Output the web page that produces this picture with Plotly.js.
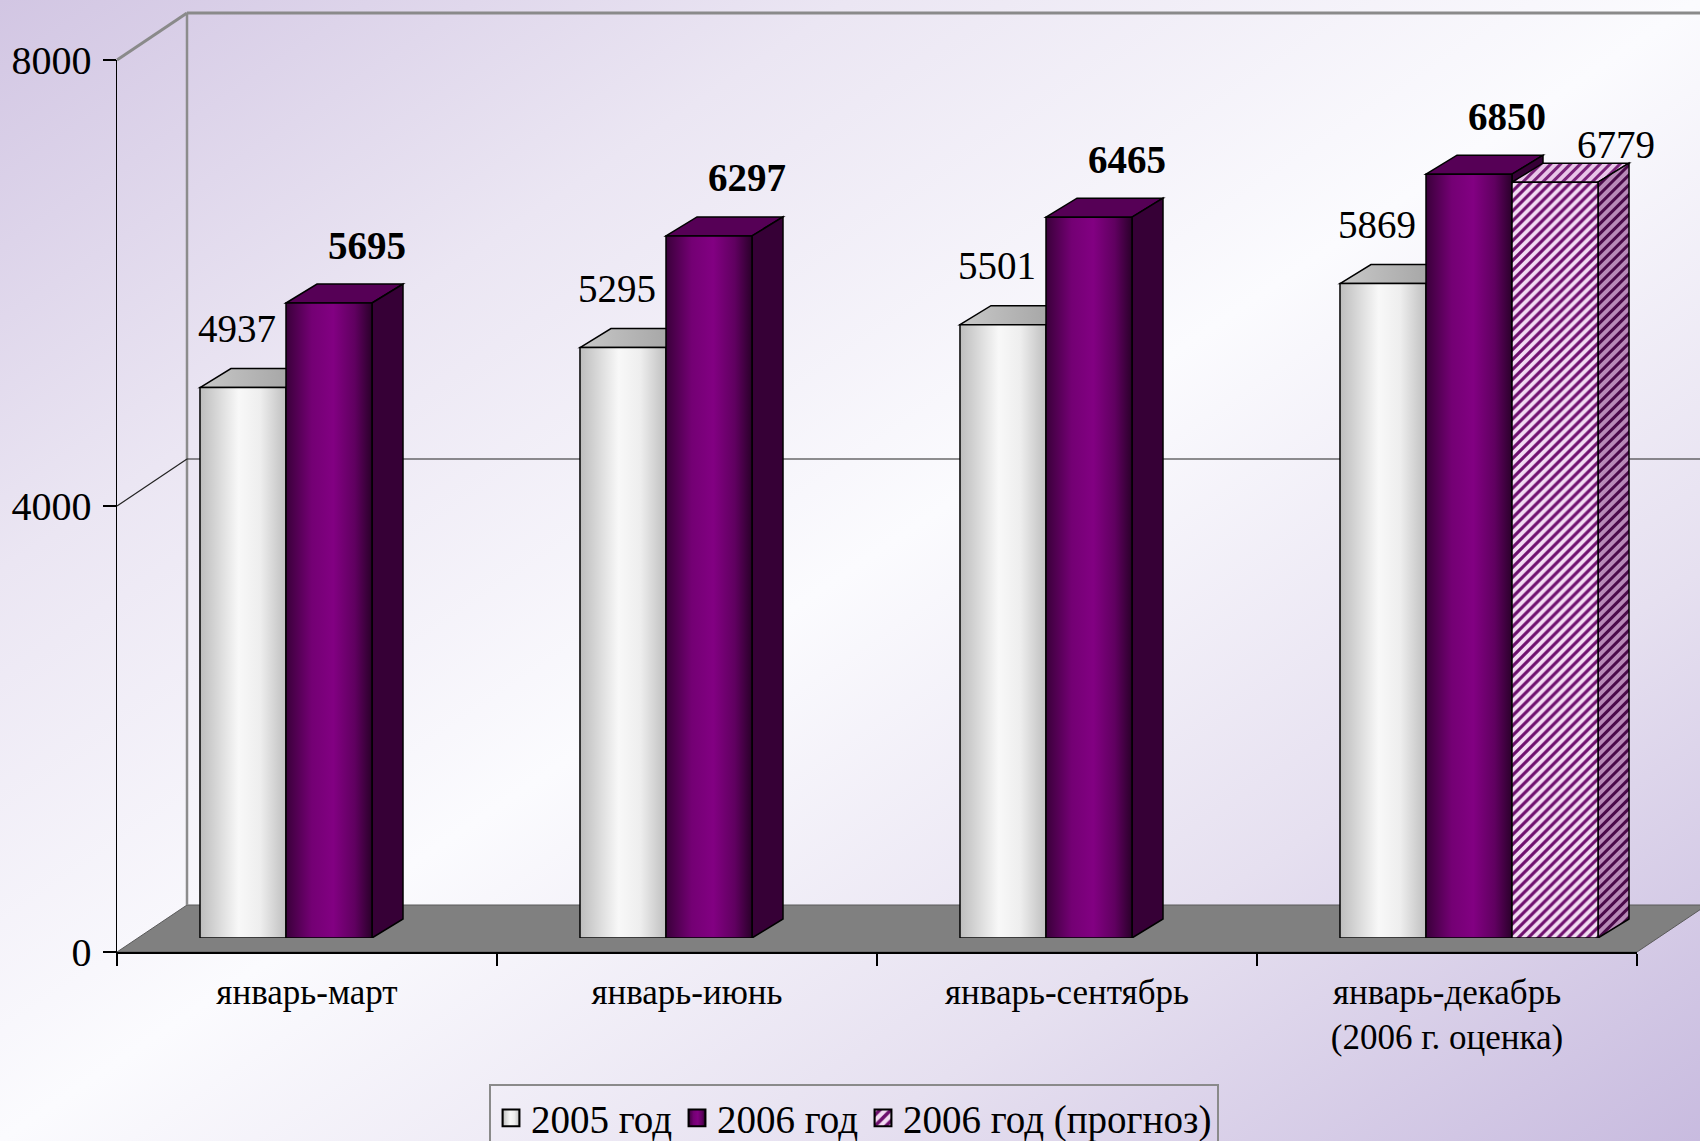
<!DOCTYPE html>
<html>
<head>
<meta charset="utf-8">
<script src="https://cdn.plot.ly/plotly-3.0.1.min.js"></script>
<style>
  html, body { margin: 0; padding: 0; }
  body {
    width: 1700px; height: 1141px; overflow: hidden;
    background: linear-gradient(to bottom right, #d2c6e3 0%, #ebe6f3 25%, #fbfbfe 50%, #e6e0f0 75%, #c8bbdf 100%);
  }
  #chart { width: 1700px; height: 1141px; }
</style>
</head>
<body>
<div id="chart"></div>
<script>
// ---- data ----
const categories = ['январь-март', 'январь-июнь', 'январь-сентябрь', 'январь-декабрь<br>(2006 г. оценка)'];
const values2005 = [4937, 5295, 5501, 5869];
const values2006 = [5695, 6297, 6465, 6850];
const valuesForecast = [null, null, null, 6779];
const seriesNames = ['2005 год', '2006 год', '2006 год (прогноз)'];
const yTickVals = [0, 4000, 8000];
const yTickText = ['0', '4000', '8000'];

// ---- layout constants ----
const W = 1700, H = 1141, L = 117, R = 63, T = 60, B = 189;
const plotW = W - L - R, plotH = H - T - B;
const yMax = 8000;
const catPx = plotW / categories.length;
const wallDX = 70, wallDY = 47;         // depth of the box (px)
const barShiftX = 22, barShiftY = 14;   // bar plane offset (px)
const barDepthX = 31, barDepthY = 19;   // bar depth (px)
const bargap = 0.321;
const FONT = '"Liberation Serif", "Times New Roman", serif';

const DX = wallDX / plotW, DY = wallDY / plotH;
const dxCat = barDepthX / catPx, dyVal = barDepthY * yMax / plotH;
const groupW = 1 - bargap, slotW = groupW / 3;

const series = [values2005, values2006, valuesForecast];
const topColors = ['#b4b4b4', '#560056', 'rgb(201, 145, 201)'];
const sideColors = ['#9a9a9a', '#360036', 'rgb(137, 73, 137)'];

const shapes = [];
// floor
shapes.push({type: 'path', xref: 'paper', yref: 'paper', layer: 'below',
  path: `M0,0 L1,0 L${1 + DX},${DY} L${DX},${DY} Z`,
  fillcolor: '#808080', line: {color: '#5a5a5a', width: 1}});
// back wall & left wall edges
shapes.push({type: 'line', xref: 'paper', yref: 'paper', layer: 'below',
  x0: DX, x1: DX, y0: DY, y1: 1 + DY, line: {color: '#8c8c8c', width: 2.5}});
shapes.push({type: 'line', xref: 'paper', yref: 'paper', layer: 'below',
  x0: DX, x1: 1 + DX + 0.05, y0: 1 + DY, y1: 1 + DY, line: {color: '#8a8a8a', width: 3}});
shapes.push({type: 'line', xref: 'paper', yref: 'paper', layer: 'below',
  x0: 0, x1: DX, y0: 1, y1: 1 + DY, line: {color: '#8a8a8a', width: 3}});
// gridline at middle tick
const midFrac = yTickVals[1] / yMax;
shapes.push({type: 'line', xref: 'paper', yref: 'paper', layer: 'below',
  x0: DX, x1: 1 + DX + 0.05, y0: midFrac + DY, y1: midFrac + DY, line: {color: '#222', width: 1.2}});
shapes.push({type: 'line', xref: 'paper', yref: 'paper', layer: 'below',
  x0: 0, x1: DX, y0: midFrac, y1: midFrac + DY, line: {color: '#222', width: 1.2}});

// 3D top & side faces of bars
for (let c = 0; c < categories.length; c++) {
  for (let s = 0; s < series.length; s++) {
    const v = series[s][c];
    if (v == null) continue;
    const x0 = c - groupW / 2 + s * slotW, x1 = x0 + slotW;
    shapes.push({type: 'path', xref: 'x2', yref: 'y2', layer: 'below',
      path: `M${x0},${v} L${x0 + dxCat},${v + dyVal} L${x1 + dxCat},${v + dyVal} L${x1},${v} Z`,
      fillcolor: topColors[s], line: {color: '#000', width: 1.5}});
    shapes.push({type: 'path', xref: 'x2', yref: 'y2', layer: 'below',
      path: `M${x1},0 L${x1 + dxCat},${dyVal} L${x1 + dxCat},${v + dyVal} L${x1},${v} Z`,
      fillcolor: sideColors[s], line: {color: '#000', width: 1.5}});
  }
}

// value labels
const labelShift = [{x: -6, y: 59, bold: false}, {x: 38, y: 58, bold: true}, {x: 61, y: 38, bold: false}];
const annotations = [];
for (let c = 0; c < categories.length; c++) {
  for (let s = 0; s < series.length; s++) {
    const v = series[s][c];
    if (v == null) continue;
    const xc = c - groupW / 2 + (s + 0.5) * slotW;
    annotations.push({xref: 'x2', yref: 'y2', x: xc, y: v, showarrow: false,
      text: labelShift[s].bold ? `<b>${v}</b>` : String(v),
      xshift: labelShift[s].x, yshift: labelShift[s].y, yanchor: 'middle', xanchor: 'center',
      font: {family: FONT, size: 39, color: '#000'}});
  }
}

const barLine = {color: '#000', width: 1.5};
const traces = [
  {type: 'bar', name: seriesNames[0], x: categories, y: values2005, xaxis: 'x2', yaxis: 'y2',
   marker: {color: '#e6e6e6', line: barLine}, hoverinfo: 'skip'},
  {type: 'bar', name: seriesNames[1], x: categories, y: values2006, xaxis: 'x2', yaxis: 'y2',
   marker: {color: '#800080', line: barLine}, hoverinfo: 'skip'},
  {type: 'bar', name: seriesNames[2], x: categories, y: valuesForecast, xaxis: 'x2', yaxis: 'y2',
   marker: {color: '#f0d6f0', line: barLine,
            pattern: {shape: '/', fgcolor: '#6e106e', bgcolor: '#f3dcf3', size: 7, solidity: 0.45}},
   hoverinfo: 'skip'},
  // invisible trace to keep the front category axis active
  {type: 'scatter', mode: 'markers', x: categories, y: categories.map(() => 0), xaxis: 'x', yaxis: 'y',
   marker: {opacity: 0}, showlegend: false, hoverinfo: 'skip'}
];

const layout = {
  width: W, height: H,
  margin: {l: L, r: R, t: T, b: B, pad: 0, autoexpand: false},
  paper_bgcolor: 'rgba(0,0,0,0)', plot_bgcolor: 'rgba(0,0,0,0)',
  barmode: 'group', bargap: bargap, bargroupgap: 0,
  showlegend: true,
  legend: {orientation: 'h', x: (854 - L) / plotW, xanchor: 'center', y: -(1084 - (T + plotH)) / plotH, yanchor: 'top',
           bgcolor: 'rgba(0,0,0,0)', bordercolor: '#8a8a8a', borderwidth: 2,
           font: {family: FONT, size: 39, color: '#000'}, itemwidth: 30, traceorder: 'normal'},
  xaxis: {type: 'category', categoryarray: categories, range: [-0.5, categories.length - 0.5],
          showline: true, linecolor: '#000', linewidth: 1.5, ticks: 'outside', tickson: 'boundaries',
          ticklen: 12, tickcolor: '#000', tickwidth: 1.5, showgrid: false, zeroline: false,
          tickfont: {family: FONT, size: 35, color: '#000'}, ticklabelstandoff: 8, fixedrange: true, anchor: 'y'},
  yaxis: {range: [0, yMax], tickvals: yTickVals, ticktext: yTickText, showline: true, linecolor: '#000', linewidth: 1.5,
          ticks: 'outside', ticklen: 13, tickcolor: '#000', tickwidth: 1.5, showgrid: false, zeroline: false,
          tickfont: {family: FONT, size: 40, color: '#000'}, ticklabelstandoff: 3, fixedrange: true, anchor: 'x'},
  xaxis2: {type: 'category', categoryarray: categories, domain: [barShiftX / plotW, 1],
           range: [-0.5, categories.length - 0.5 - barShiftX / catPx], visible: false, anchor: 'y2', fixedrange: true},
  yaxis2: {domain: [barShiftY / plotH, 1], range: [0, yMax * (1 - barShiftY / plotH)], visible: false,
           anchor: 'x2', fixedrange: true},
  shapes: shapes,
  annotations: annotations
};

Plotly.newPlot('chart', traces, layout, {displayModeBar: false, staticPlot: true}).then(function (gd) {
  const svg = gd.querySelector('.main-svg');
  const NS = 'http://www.w3.org/2000/svg';
  const defs = document.createElementNS(NS, 'defs');
  defs.innerHTML =
    '<linearGradient id="g2005" x1="0" y1="0" x2="1" y2="0">' +
      '<stop offset="0" stop-color="#bdbdbd"/><stop offset="0.45" stop-color="#f8f8f8"/>' +
      '<stop offset="0.7" stop-color="#eeeeee"/><stop offset="1" stop-color="#bfbfbf"/></linearGradient>' +
    '<linearGradient id="g2006" x1="0" y1="0" x2="1" y2="0">' +
      '<stop offset="0" stop-color="#3a003a"/><stop offset="0.3" stop-color="#740074"/>' +
      '<stop offset="0.55" stop-color="#820082"/><stop offset="0.8" stop-color="#600060"/>' +
      '<stop offset="1" stop-color="#2a002a"/></linearGradient>' +
    '<linearGradient id="gtop2005" x1="0" y1="0" x2="1" y2="0">' +
      '<stop offset="0" stop-color="#c8c8c8"/><stop offset="1" stop-color="#9c9c9c"/></linearGradient>' +
    '<pattern id="ptop" patternUnits="userSpaceOnUse" width="7" height="7" patternTransform="rotate(45)">' +
      '<rect width="7" height="7" fill="#e9c6e9"/><rect width="3" height="7" fill="#7a227a"/></pattern>' +
    '<pattern id="pside" patternUnits="userSpaceOnUse" width="7" height="7" patternTransform="rotate(45)">' +
      '<rect width="7" height="7" fill="#b88ab8"/><rect width="3" height="7" fill="#4a0a4a"/></pattern>';
  svg.insertBefore(defs, svg.firstChild);

  const barTraces = gd.querySelectorAll('.barlayer .trace');
  if (barTraces[0]) barTraces[0].querySelectorAll('path').forEach(p => p.style.fill = 'url(#g2005)');
  if (barTraces[1]) barTraces[1].querySelectorAll('path').forEach(p => p.style.fill = 'url(#g2006)');

  const legTraces = gd.querySelectorAll('.legend .traces');
  legTraces.forEach((t, i) => {
    t.querySelectorAll('.legendpoints path').forEach(p => {
      if (i === 0) p.style.fill = 'url(#g2005)';
      if (i === 1) p.style.fill = 'url(#g2006)';
      const tr = p.getAttribute('transform') || '';
      p.setAttribute('transform', tr + ' scale(1.4)');
    });
  });

  gd.querySelectorAll('.shapelayer path').forEach(p => {
    const f = (p.style.fill || '').replace(/\s/g, '');
    if (f === 'rgb(201,145,201)') p.style.fill = 'url(#ptop)';
    else if (f === 'rgb(137,73,137)') p.style.fill = 'url(#pside)';
    else if (f === 'rgb(180,180,180)') p.style.fill = 'url(#gtop2005)';
  });
});
</script>
</body>
</html>
